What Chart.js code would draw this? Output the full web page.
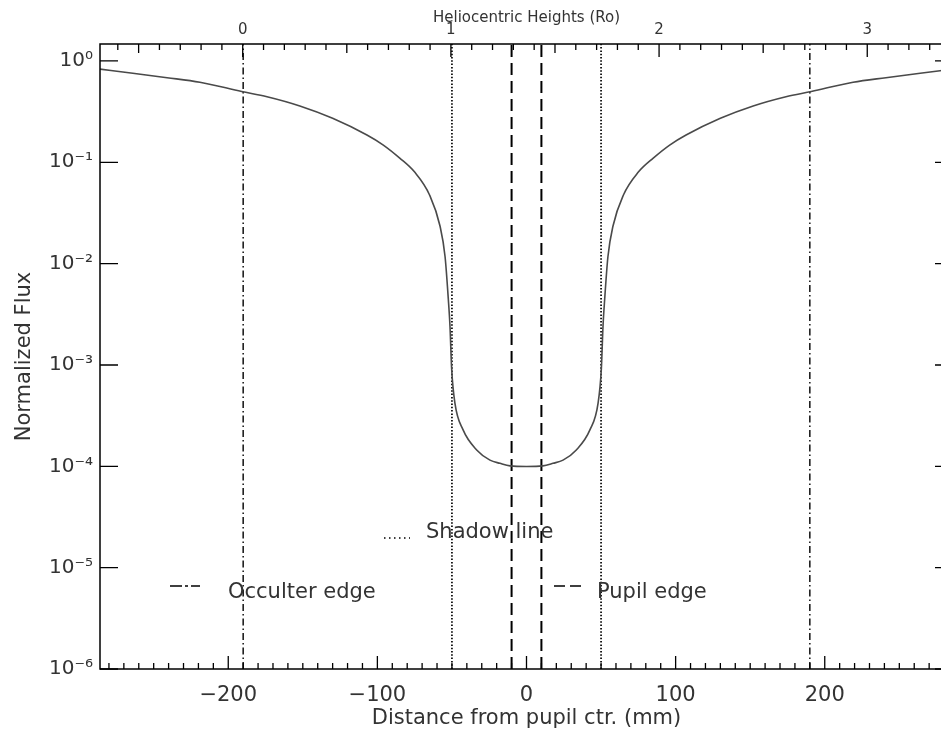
<!DOCTYPE html>
<html>
<head>
<meta charset="utf-8">
<script src="https://cdn.jsdelivr.net/npm/chart.js@4.4.0/dist/chart.umd.min.js"></script>
<style>
html, body { margin: 0; padding: 0; background: #fff; overflow: hidden; }
#wrap { width: 953px; height: 736px; }
</style>
</head>
<body>
<div id="wrap"><canvas id="mycanvas" width="953" height="736"></canvas></div>
<script>
// distance from pupil centre (mm) and normalized flux
var distance = [-286, -264, -241, -219, -191, -174, -152, -130, -107, -96, -85, -75, -65, -58, -54.6, -52.4, -51.3, -50.2, -48, -42.6, -33.4, -24.5, -17.8, -11, 0,
                11, 17.8, 24.5, 33.4, 42.6, 48, 50.2, 51.3, 52.4, 54.6, 58, 65, 75, 85, 96, 107, 130, 152, 174, 191, 219, 241, 264, 286];
var flux = [0.83, 0.757, 0.684, 0.616, 0.50, 0.444, 0.36, 0.272, 0.186, 0.148, 0.110, 0.080, 0.0476, 0.0235, 0.0117, 0.0044, 0.0024, 0.00092, 0.00042, 0.00023, 0.000145, 0.000115, 0.000107, 0.000101, 0.0000995,
            0.000101, 0.000107, 0.000115, 0.000145, 0.00023, 0.00042, 0.00092, 0.0024, 0.0044, 0.0117, 0.0235, 0.0476, 0.080, 0.110, 0.148, 0.186, 0.272, 0.36, 0.444, 0.50, 0.616, 0.684, 0.757, 0.83];

var occulterEdge = [-190, 190];
var shadowLine = [-50, 50];
var pupilEdge = [-10, 10];

var xTicks = [-200, -100, 0, 100, 200];
var heightTicks = [0, 1, 2, 3];
var fluxTicks = [1e-6, 1e-5, 1e-4, 1e-3, 1e-2, 1e-1, 1];
var fluxLabels = ['10\u207B\u2076', '10\u207B\u2075', '10\u207B\u2074', '10\u207B\u00B3', '10\u207B\u00B2', '10\u207B\u00B9', '10\u2070'];

var xMin = -286, xMax = 286;
var yMin = 1e-6, yMax = 1.47;
// heliocentric height (Ro) = (distance + 190.3) / 139.6
var hMin = (xMin + 190.3) / 139.6, hMax = (xMax + 190.3) / 139.6;

var FONT = 'DejaVu Sans';
var TXT = '#333';

function vline(xs, dash, width) {
	return xs.map(function (v) {
		return {
			data: [{x: v, y: yMin}, {x: v, y: yMax}],
			borderColor: '#000',
			borderWidth: width,
			borderDash: dash,
			pointRadius: 0,
			fill: false
		};
	});
}

var frameTicks = {
	id: 'frameTicks',
	afterDraw: function (chart) {
		var ctx = chart.ctx, a = chart.chartArea, s = chart.scales;
		ctx.save();
		ctx.strokeStyle = '#000';
		ctx.lineWidth = 1.5;
		ctx.strokeRect(a.left, a.top, a.right - a.left, a.bottom - a.top);

		ctx.lineWidth = 1.3;
		ctx.beginPath();
		for (var v = -280; v <= 280; v += 10) {
			var px = s.x.getPixelForValue(v);
			var len = (v % 100 === 0) ? 13 : 6;
			ctx.moveTo(px, a.bottom);
			ctx.lineTo(px, a.bottom - len);
		}
		for (var i = -6; i <= 34; i++) {
			var hx = s.x2.getPixelForValue(i / 10);
			var hl = (i % 10 === 0) ? 13 : ((i % 5 === 0) ? 9 : 6);
			ctx.moveTo(hx, a.top);
			ctx.lineTo(hx, a.top + hl);
		}
		fluxTicks.forEach(function (f) {
			var py = s.y.getPixelForValue(f);
			ctx.moveTo(a.left, py);
			ctx.lineTo(a.left + 18, py);
			ctx.moveTo(a.right, py);
			ctx.lineTo(a.right - 18, py);
		});
		ctx.stroke();

		// legend inside the plot
		ctx.fillStyle = TXT;
		ctx.font = '21px "' + FONT + '"';
		ctx.textBaseline = 'middle';
		ctx.textAlign = 'left';
		ctx.fillText('Shadow line', 426, 533);
		ctx.fillText('Occulter edge', 228, 593);
		ctx.fillText('Pupil edge', 597, 593);

		ctx.strokeStyle = '#000';
		ctx.lineWidth = 1.5;
		ctx.setLineDash([1.5, 3.5]);
		ctx.beginPath();
		ctx.moveTo(384, 538); ctx.lineTo(410, 538);
		ctx.stroke();
		ctx.setLineDash([]);
		ctx.beginPath();
		ctx.moveTo(170, 586); ctx.lineTo(182, 586);
		ctx.moveTo(185, 586); ctx.lineTo(188, 586);
		ctx.moveTo(191, 586); ctx.lineTo(200, 586);
		ctx.moveTo(554, 586); ctx.lineTo(565, 586);
		ctx.moveTo(570, 586); ctx.lineTo(581, 586);
		ctx.stroke();
		ctx.restore();
	}
};

var curve = {
	data: distance.map(function (d, i) { return {x: d, y: flux[i]}; }),
	borderColor: '#4a4a4a',
	borderWidth: 1.6,
	pointRadius: 0,
	cubicInterpolationMode: 'monotone',
	fill: false
};

var datasets = [curve]
	.concat(vline(occulterEdge, [7, 3, 1.5, 3], 1.4))
	.concat(vline(shadowLine, [1.5, 1.8], 1.7))
	.concat(vline(pupilEdge, [12, 6], 2));

var ctx = document.getElementById('mycanvas');
var chart = new Chart(ctx, {
	type: 'line',
	data: {datasets: datasets},
	options: {
		responsive: false,
		animation: false,
		layout: {padding: 0},
		plugins: {legend: {display: false}, tooltip: {enabled: false}},
		scales: {
			x: {
				type: 'linear', position: 'bottom', min: xMin, max: xMax,
				afterBuildTicks: function (sc) { sc.ticks = xTicks.map(function (v) { return {value: v}; }); },
				afterFit: function (sc) { sc.height = 67; },
				grid: {display: false, drawTicks: false},
				border: {display: false},
				ticks: {
					font: {family: FONT, size: 21}, color: TXT, padding: 14, maxRotation: 0, autoSkip: false,
					callback: function (v) { return v < 0 ? '\u2212' + Math.abs(v) : String(v); }
				},
				title: {display: true, text: 'Distance from pupil ctr. (mm)', font: {family: FONT, size: 21}, color: TXT, padding: {top: 0, bottom: 5}}
			},
			x2: {
				type: 'linear', position: 'top', min: hMin, max: hMax,
				afterBuildTicks: function (sc) { sc.ticks = heightTicks.map(function (v) { return {value: v}; }); },
				afterFit: function (sc) { sc.height = 44; },
				grid: {display: false, drawTicks: false},
				border: {display: false},
				ticks: {font: {family: FONT, size: 15}, color: TXT, padding: 5, maxRotation: 0, autoSkip: false},
				title: {display: true, text: 'Heliocentric Heights (Ro)', font: {family: FONT, size: 15}, color: TXT, padding: {top: 9, bottom: 0}}
			},
			y: {
				type: 'logarithmic', position: 'left', min: yMin, max: yMax,
				afterBuildTicks: function (sc) { sc.ticks = fluxTicks.map(function (v) { return {value: v}; }); },
				afterFit: function (sc) { sc.width = 100; },
				grid: {display: false, drawTicks: false},
				border: {display: false},
				ticks: {
					font: {family: FONT, size: 20}, color: TXT, padding: 7, autoSkip: false,
					callback: function (v, i) { return fluxLabels[i]; }
				},
				title: {display: true, text: 'Normalized Flux', font: {family: FONT, size: 21}, color: TXT, padding: {top: 12, bottom: 0}}
			}
		}
	},
	plugins: [frameTicks]
});
</script>
</body>
</html>
